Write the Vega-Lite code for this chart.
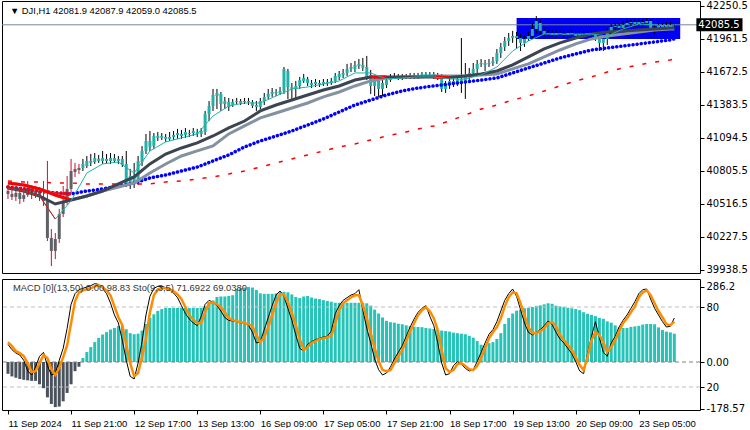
{
"$schema": "https://vega.github.io/schema/vega-lite/v6.json",
"padding": {"left": 0, "top": 0, "right": 0, "bottom": 0},
"background": "white",
"spacing": 2,
"config": {"view": {"stroke": "#000000", "strokeWidth": 1}, "axis": {"labelFont": "DejaVu Sans", "labelFontSize": 10, "labelColor": "#000000", "tickColor": "#000000", "domain": false, "grid": false, "tickSize": 4, "labelOverlap": false}, "text": {"font": "Liberation Sans"}},
"datasets": {
"candles": [
{"i":0,"o":40630,"h":40665,"l":40560,"c":40604},{"i":1,"o":40604,"h":40639,"l":40551,"c":40578},{"i":2,"o":40578,"h":40648,"l":40543,"c":40613},{"i":3,"o":40613,"h":40639,"l":40516,"c":40560},{"i":4,"o":40560,"h":40630,"l":40534,"c":40595},{"i":5,"o":40595,"h":40718,"l":40578,"c":40657},{"i":6,"o":40657,"h":40683,"l":40560,"c":40604},{"i":7,"o":40604,"h":40674,"l":40569,"c":40630},{"i":8,"o":40630,"h":40665,"l":40543,"c":40578},{"i":9,"o":40578,"h":40718,"l":40499,"c":40543},
{"i":10,"o":40543,"h":40893,"l":40192,"c":40219},{"i":11,"o":40219,"h":40297,"l":39973,"c":40105},{"i":12,"o":40105,"h":40262,"l":40034,"c":40210},{"i":13,"o":40210,"h":40473,"l":40175,"c":40429},{"i":14,"o":40429,"h":40674,"l":40402,"c":40543},{"i":15,"o":40543,"h":40762,"l":40508,"c":40648},{"i":16,"o":40648,"h":40911,"l":40613,"c":40805},{"i":17,"o":40797,"h":40876,"l":40753,"c":40823},{"i":18,"o":40814,"h":40867,"l":40779,"c":40832},{"i":19,"o":40832,"h":40911,"l":40805,"c":40867},
{"i":20,"o":40849,"h":40937,"l":40832,"c":40893},{"i":21,"o":40876,"h":40954,"l":40849,"c":40893},{"i":22,"o":40884,"h":40963,"l":40867,"c":40919},{"i":23,"o":40911,"h":40946,"l":40876,"c":40893},{"i":24,"o":40893,"h":40981,"l":40867,"c":40919},{"i":25,"o":40911,"h":40954,"l":40867,"c":40893},{"i":26,"o":40893,"h":40963,"l":40867,"c":40919},{"i":27,"o":40919,"h":40954,"l":40876,"c":40893},{"i":28,"o":40893,"h":40937,"l":40867,"c":40911},{"i":29,"o":40911,"h":40937,"l":40840,"c":40858},
{"i":30,"o":40867,"h":40981,"l":40665,"c":40692},{"i":31,"o":40692,"h":40823,"l":40648,"c":40762},{"i":32,"o":40753,"h":40876,"l":40657,"c":40700},{"i":33,"o":40718,"h":40937,"l":40683,"c":40893},{"i":34,"o":40884,"h":41024,"l":40849,"c":40981},{"i":35,"o":40981,"h":41130,"l":40954,"c":41068},{"i":36,"o":41068,"h":41156,"l":40981,"c":41016},{"i":37,"o":41024,"h":41138,"l":40998,"c":41112},{"i":38,"o":41112,"h":41147,"l":41068,"c":41095},{"i":39,"o":41095,"h":41138,"l":41077,"c":41112},
{"i":40,"o":41103,"h":41130,"l":41060,"c":41086},{"i":41,"o":41086,"h":41147,"l":41068,"c":41103},{"i":42,"o":41103,"h":41156,"l":41077,"c":41121},{"i":43,"o":41121,"h":41174,"l":41086,"c":41138},{"i":44,"o":41130,"h":41165,"l":41086,"c":41112},{"i":45,"o":41121,"h":41182,"l":41095,"c":41147},{"i":46,"o":41138,"h":41165,"l":41103,"c":41130},{"i":47,"o":41138,"h":41182,"l":41112,"c":41156},{"i":48,"o":41147,"h":41174,"l":41103,"c":41130},{"i":49,"o":41130,"h":41182,"l":41103,"c":41156},
{"i":50,"o":41147,"h":41331,"l":41121,"c":41305},{"i":51,"o":41305,"h":41418,"l":41243,"c":41375},{"i":52,"o":41375,"h":41524,"l":41331,"c":41471},{"i":53,"o":41462,"h":41524,"l":41348,"c":41489},{"i":54,"o":41480,"h":41497,"l":41331,"c":41392},{"i":55,"o":41392,"h":41454,"l":41348,"c":41418},{"i":56,"o":41410,"h":41445,"l":41331,"c":41366},{"i":57,"o":41383,"h":41436,"l":41366,"c":41410},{"i":58,"o":41410,"h":41445,"l":41392,"c":41418},{"i":59,"o":41418,"h":41436,"l":41383,"c":41401},
{"i":60,"o":41410,"h":41445,"l":41392,"c":41418},{"i":61,"o":41418,"h":41445,"l":41383,"c":41410},{"i":62,"o":41410,"h":41427,"l":41357,"c":41375},{"i":63,"o":41383,"h":41418,"l":41331,"c":41366},{"i":64,"o":41366,"h":41445,"l":41348,"c":41418},{"i":65,"o":41418,"h":41489,"l":41383,"c":41454},{"i":66,"o":41454,"h":41524,"l":41436,"c":41480},{"i":67,"o":41480,"h":41532,"l":41454,"c":41497},{"i":68,"o":41497,"h":41524,"l":41462,"c":41489},{"i":69,"o":41489,"h":41541,"l":41471,"c":41506},
{"i":70,"o":41506,"h":41716,"l":41480,"c":41699},{"i":71,"o":41681,"h":41699,"l":41436,"c":41541},{"i":72,"o":41541,"h":41576,"l":41418,"c":41524},{"i":73,"o":41524,"h":41594,"l":41436,"c":41550},{"i":74,"o":41550,"h":41629,"l":41524,"c":41602},{"i":75,"o":41594,"h":41655,"l":41576,"c":41620},{"i":76,"o":41611,"h":41629,"l":41550,"c":41576},{"i":77,"o":41576,"h":41602,"l":41532,"c":41559},{"i":78,"o":41567,"h":41611,"l":41541,"c":41585},{"i":79,"o":41576,"h":41602,"l":41541,"c":41567},
{"i":80,"o":41567,"h":41611,"l":41550,"c":41585},{"i":81,"o":41585,"h":41611,"l":41550,"c":41576},{"i":82,"o":41576,"h":41620,"l":41559,"c":41594},{"i":83,"o":41594,"h":41664,"l":41576,"c":41637},{"i":84,"o":41629,"h":41681,"l":41602,"c":41655},{"i":85,"o":41646,"h":41699,"l":41620,"c":41664},{"i":86,"o":41664,"h":41743,"l":41637,"c":41699},{"i":87,"o":41699,"h":41751,"l":41672,"c":41716},{"i":88,"o":41699,"h":41769,"l":41672,"c":41734},{"i":89,"o":41725,"h":41786,"l":41699,"c":41743},
{"i":90,"o":41734,"h":41795,"l":41681,"c":41708},{"i":91,"o":41716,"h":41813,"l":41602,"c":41629},{"i":92,"o":41646,"h":41690,"l":41480,"c":41550},{"i":93,"o":41550,"h":41629,"l":41462,"c":41594},{"i":94,"o":41594,"h":41620,"l":41454,"c":41524},{"i":95,"o":41524,"h":41611,"l":41462,"c":41576},{"i":96,"o":41559,"h":41629,"l":41532,"c":41602},{"i":97,"o":41602,"h":41655,"l":41585,"c":41629},{"i":98,"o":41629,"h":41664,"l":41611,"c":41637},{"i":99,"o":41637,"h":41655,"l":41602,"c":41620},
{"i":100,"o":41620,"h":41655,"l":41602,"c":41637},{"i":101,"o":41637,"h":41655,"l":41611,"c":41629},{"i":102,"o":41629,"h":41664,"l":41611,"c":41646},{"i":103,"o":41646,"h":41664,"l":41611,"c":41629},{"i":104,"o":41629,"h":41664,"l":41611,"c":41646},{"i":105,"o":41646,"h":41672,"l":41620,"c":41655},{"i":106,"o":41655,"h":41672,"l":41620,"c":41637},{"i":107,"o":41637,"h":41672,"l":41620,"c":41655},{"i":108,"o":41655,"h":41672,"l":41611,"c":41637},{"i":109,"o":41637,"h":41664,"l":41602,"c":41629},
{"i":110,"o":41637,"h":41655,"l":41497,"c":41524},{"i":111,"o":41524,"h":41594,"l":41489,"c":41559},{"i":112,"o":41559,"h":41611,"l":41524,"c":41594},{"i":113,"o":41594,"h":41629,"l":41541,"c":41576},{"i":114,"o":41576,"h":41646,"l":41550,"c":41611},{"i":115,"o":41611,"h":41970,"l":41489,"c":41594},{"i":116,"o":41594,"h":41751,"l":41436,"c":41629},{"i":117,"o":41629,"h":41708,"l":41594,"c":41664},{"i":118,"o":41664,"h":41751,"l":41637,"c":41699},{"i":119,"o":41699,"h":41778,"l":41664,"c":41743},
{"i":120,"o":41743,"h":41786,"l":41716,"c":41751},{"i":121,"o":41751,"h":41778,"l":41681,"c":41734},{"i":122,"o":41743,"h":41786,"l":41716,"c":41751},{"i":123,"o":41751,"h":41804,"l":41725,"c":41769},{"i":124,"o":41769,"h":41874,"l":41743,"c":41839},{"i":125,"o":41839,"h":41927,"l":41795,"c":41892},{"i":126,"o":41892,"h":41979,"l":41856,"c":41944},{"i":127,"o":41944,"h":42014,"l":41900,"c":41970},{"i":128,"o":41970,"h":42032,"l":41927,"c":41988},{"i":129,"o":41988,"h":42023,"l":41874,"c":41970},
{"i":130,"o":41970,"h":42005,"l":41856,"c":41927},{"i":131,"o":41927,"h":41997,"l":41892,"c":41962},{"i":132,"o":41962,"h":42023,"l":41944,"c":41988},{"i":133,"o":41988,"h":42102,"l":41962,"c":42049},{"i":134,"o":42049,"h":42163,"l":42014,"c":42119},{"i":135,"o":42102,"h":42137,"l":41997,"c":42032},{"i":136,"o":42032,"h":42058,"l":41979,"c":42005},{"i":137,"o":42005,"h":42040,"l":41988,"c":42014},{"i":138,"o":42014,"h":42040,"l":41979,"c":41997},{"i":139,"o":41997,"h":42040,"l":41979,"c":42014},
{"i":140,"o":42014,"h":42040,"l":41988,"c":42005},{"i":141,"o":42005,"h":42032,"l":41970,"c":41997},{"i":142,"o":41997,"h":42040,"l":41979,"c":42014},{"i":143,"o":42014,"h":42040,"l":41988,"c":42005},{"i":144,"o":42005,"h":42032,"l":41962,"c":41988},{"i":145,"o":41988,"h":42032,"l":41970,"c":42005},{"i":146,"o":42005,"h":42032,"l":41979,"c":41997},{"i":147,"o":41997,"h":42040,"l":41979,"c":42014},{"i":148,"o":42014,"h":42040,"l":41970,"c":41997},{"i":149,"o":41997,"h":42023,"l":41944,"c":41979},
{"i":150,"o":41979,"h":42005,"l":41856,"c":41927},{"i":151,"o":41927,"h":41997,"l":41856,"c":41962},{"i":152,"o":41962,"h":42058,"l":41909,"c":42032},{"i":153,"o":42032,"h":42093,"l":42005,"c":42067},{"i":154,"o":42067,"h":42102,"l":42040,"c":42075},{"i":155,"o":42075,"h":42102,"l":42032,"c":42058},{"i":156,"o":42058,"h":42110,"l":42040,"c":42084},{"i":157,"o":42084,"h":42128,"l":42058,"c":42102},{"i":158,"o":42102,"h":42137,"l":42075,"c":42110},{"i":159,"o":42110,"h":42137,"l":42067,"c":42093},
{"i":160,"o":42093,"h":42137,"l":42075,"c":42110},{"i":161,"o":42110,"h":42137,"l":42075,"c":42102},{"i":162,"o":42102,"h":42145,"l":42084,"c":42119},{"i":163,"o":42119,"h":42137,"l":42023,"c":42058},{"i":164,"o":42058,"h":42084,"l":42005,"c":42040},{"i":165,"o":42040,"h":42102,"l":42023,"c":42075},{"i":166,"o":42075,"h":42102,"l":42032,"c":42058},{"i":167,"o":42058,"h":42110,"l":42040,"c":42084},{"i":168,"o":42084,"h":42110,"l":42049,"c":42067},{"i":169,"o":42081.9,"h":42087.9,"l":42059.0,"c":42085.5}
],
"ma": [
{"i":0,"f":40657,"m":40657,"s":40700,"b":40665,"r":40718},{"i":4,"f":40630,"m":40630,"s":40683,"b":40648,"r":40709},{"i":8,"f":40586,"m":40586,"s":40648,"b":40630,"r":40709},{"i":12,"f":40385,"m":40516,"s":40595,"b":40613,"r":40700},{"i":16,"f":40543,"m":40551,"s":40551,"b":40604,"r":40700},{"i":20,"f":40788,"m":40586,"s":40586,"b":40630,"r":40692},{"i":24,"f":40867,"m":40630,"s":40630,"b":40648,"r":40692},{"i":28,"f":40884,"m":40692,"s":40665,"b":40674,"r":40692},{"i":32,"f":40788,"m":40753,"s":40700,"b":40700,"r":40692},{"i":36,"f":40981,"m":40867,"s":40788,"b":40744,"r":40692},
{"i":40,"f":41060,"m":40954,"s":40867,"b":40770,"r":40709},{"i":44,"f":41095,"m":41007,"s":40937,"b":40805,"r":40718},{"i":48,"f":41130,"m":41051,"s":40981,"b":40840,"r":40735},{"i":52,"f":41287,"m":41112,"s":41024,"b":40893,"r":40753},{"i":56,"f":41375,"m":41182,"s":41130,"b":40946,"r":40779},{"i":60,"f":41401,"m":41243,"s":41200,"b":41016,"r":40805},{"i":64,"f":41401,"m":41331,"s":41270,"b":41068,"r":40840},{"i":68,"f":41462,"m":41383,"s":41313,"b":41112,"r":40876},{"i":72,"f":41524,"m":41427,"s":41357,"b":41156,"r":40911},{"i":76,"f":41541,"m":41471,"s":41401,"b":41208,"r":40946},
{"i":80,"f":41567,"m":41515,"s":41454,"b":41261,"r":40981},{"i":84,"f":41594,"m":41550,"s":41497,"b":41322,"r":41016},{"i":88,"f":41664,"m":41602,"s":41550,"b":41383,"r":41042},{"i":92,"f":41664,"m":41629,"s":41594,"b":41427,"r":41077},{"i":96,"f":41611,"m":41629,"s":41620,"b":41471,"r":41112},{"i":100,"f":41620,"m":41629,"s":41629,"b":41506,"r":41138},{"i":104,"f":41629,"m":41629,"s":41629,"b":41532,"r":41174},{"i":108,"f":41629,"m":41629,"s":41637,"b":41550,"r":41200},{"i":112,"f":41611,"m":41625,"s":41637,"b":41567,"r":41243},{"i":116,"f":41611,"m":41637,"s":41637,"b":41585,"r":41296},
{"i":120,"f":41646,"m":41655,"s":41646,"b":41602,"r":41348},{"i":124,"f":41716,"m":41681,"s":41655,"b":41620,"r":41383},{"i":128,"f":41856,"m":41734,"s":41699,"b":41664,"r":41427},{"i":132,"f":41944,"m":41804,"s":41743,"b":41708,"r":41462},{"i":136,"f":42005,"m":41874,"s":41804,"b":41751,"r":41506},{"i":140,"f":42005,"m":41927,"s":41865,"b":41795,"r":41550},{"i":144,"f":42005,"m":41970,"s":41918,"b":41830,"r":41594},{"i":148,"f":42005,"m":42005,"s":41962,"b":41865,"r":41629},{"i":152,"f":41988,"m":42023,"s":41988,"b":41883,"r":41672},{"i":156,"f":42049,"m":42032,"s":42005,"b":41900,"r":41708},
{"i":160,"f":42093,"m":42040,"s":42023,"b":41918,"r":41734},{"i":164,"f":42084,"m":42049,"s":42040,"b":41935,"r":41760},{"i":168,"f":42075,"m":42058,"s":42049,"b":41953,"r":41778},{"i":169,"f":42075,"m":42058,"s":42049,"b":41962,"r":41786}
],
"osc": [
{"i":0,"h":-45,"k":52,"d":53.6},{"i":1,"h":-55,"k":48,"d":50.6},{"i":2,"h":-60,"k":45.5,"d":46.9},{"i":3,"h":-65,"k":44,"d":45.4},{"i":4,"h":-68,"k":40,"d":43.2},{"i":5,"h":-70,"k":32,"d":37.9},{"i":6,"h":-72,"k":29,"d":31.2},{"i":7,"h":-72,"k":35,"d":31.9},{"i":8,"h":-85,"k":43,"d":37.9},{"i":9,"h":-100,"k":46,"d":43.9},
{"i":10,"h":-135,"k":36,"d":41.7},{"i":11,"h":-160,"k":29,"d":33.4},{"i":12,"h":-172,"k":30,"d":29.0},{"i":13,"h":-170,"k":40,"d":34.2},{"i":14,"h":-150,"k":49,"d":42.4},{"i":15,"h":-118,"k":64,"d":51.4},{"i":16,"h":-85,"k":82,"d":67.8},{"i":17,"h":-35,"k":90,"d":84.3},{"i":18,"h":-18,"k":93,"d":91.0},{"i":19,"h":15,"k":94,"d":92.5},
{"i":20,"h":38,"k":95,"d":93.3},{"i":21,"h":57,"k":96,"d":94.0},{"i":22,"h":76,"k":97.5,"d":95.5},{"i":23,"h":92,"k":97,"d":96.3},{"i":24,"h":105,"k":94,"d":94.8},{"i":25,"h":114,"k":90,"d":92.5},{"i":26,"h":124,"k":83,"d":88.8},{"i":27,"h":130,"k":74,"d":80.5},{"i":28,"h":137,"k":68,"d":72.3},{"i":29,"h":138,"k":55,"d":66.4},
{"i":30,"h":125,"k":40,"d":51.4},{"i":31,"h":110,"k":28,"d":37.9},{"i":32,"h":106,"k":26,"d":28.2},{"i":33,"h":108,"k":38,"d":30.4},{"i":34,"h":120,"k":54,"d":42.4},{"i":35,"h":145,"k":74,"d":56.6},{"i":36,"h":168,"k":88,"d":76.1},{"i":37,"h":182,"k":94,"d":88.8},{"i":38,"h":195,"k":95.5,"d":93.3},{"i":39,"h":202,"k":95.5,"d":94.0},
{"i":40,"h":206,"k":94.5,"d":94.0},{"i":41,"h":206,"k":93,"d":93.3},{"i":42,"h":206,"k":90.5,"d":91.8},{"i":43,"h":206,"k":87,"d":89.5},{"i":44,"h":206,"k":81,"d":85.8},{"i":45,"h":206,"k":75,"d":79.8},{"i":46,"h":206,"k":71,"d":73.8},{"i":47,"h":206,"k":68,"d":70.8},{"i":48,"h":206,"k":66,"d":67.8},{"i":49,"h":206,"k":73,"d":67.8},
{"i":50,"h":212,"k":82,"d":76.1},{"i":51,"h":228,"k":85,"d":82.8},{"i":52,"h":235,"k":83.5,"d":83.6},{"i":53,"h":248,"k":81,"d":82.1},{"i":54,"h":250,"k":77,"d":79.8},{"i":55,"h":250,"k":72,"d":76.1},{"i":56,"h":252,"k":70,"d":71.6},{"i":57,"h":255,"k":69.5,"d":70.1},{"i":58,"h":278,"k":69,"d":69.3},{"i":59,"h":282,"k":68,"d":68.6},
{"i":60,"h":284,"k":67.5,"d":67.8},{"i":61,"h":286,"k":66.5,"d":67.1},{"i":62,"h":284,"k":61,"d":65.6},{"i":63,"h":275,"k":53,"d":58.9},{"i":64,"h":262,"k":54,"d":53.6},{"i":65,"h":260,"k":63,"d":57.4},{"i":66,"h":260,"k":72,"d":64.9},{"i":67,"h":260,"k":81,"d":73.8},{"i":68,"h":262,"k":89,"d":82.8},{"i":69,"h":266,"k":92,"d":89.5},
{"i":70,"h":268,"k":88,"d":89.5},{"i":71,"h":266,"k":79,"d":83.6},{"i":72,"h":258,"k":70,"d":75.3},{"i":73,"h":248,"k":59,"d":66.4},{"i":74,"h":244,"k":49,"d":55.9},{"i":75,"h":250,"k":47,"d":47.7},{"i":76,"h":252,"k":52,"d":49.9},{"i":77,"h":246,"k":54,"d":52.9},{"i":78,"h":242,"k":55.5,"d":54.4},{"i":79,"h":240,"k":56.5,"d":55.9},
{"i":80,"h":236,"k":57.5,"d":56.6},{"i":81,"h":233,"k":58,"d":57.4},{"i":82,"h":230,"k":62,"d":58.1},{"i":83,"h":226,"k":75,"d":67.8},{"i":84,"h":226,"k":81,"d":77.6},{"i":85,"h":226,"k":85,"d":82.8},{"i":86,"h":226,"k":87,"d":85.1},{"i":87,"h":226,"k":89,"d":87.3},{"i":88,"h":226,"k":90,"d":88.8},{"i":89,"h":226,"k":93,"d":88.8},
{"i":90,"h":225,"k":78,"d":81.3},{"i":91,"h":224,"k":64,"d":71.6},{"i":92,"h":215,"k":53,"d":60.4},{"i":93,"h":200,"k":41,"d":49.2},{"i":94,"h":185,"k":33,"d":39.5},{"i":95,"h":170,"k":29,"d":32.7},{"i":96,"h":157,"k":30.5,"d":31.9},{"i":97,"h":152,"k":35,"d":32.7},{"i":98,"h":150,"k":41,"d":37.9},{"i":99,"h":146,"k":46,"d":43.2},
{"i":100,"h":144,"k":51,"d":47.7},{"i":101,"h":140,"k":58,"d":54.4},{"i":102,"h":137,"k":65,"d":61.9},{"i":103,"h":135,"k":71,"d":67.8},{"i":104,"h":134,"k":76,"d":73.8},{"i":105,"h":133,"k":79,"d":77.6},{"i":106,"h":130,"k":81,"d":79.8},{"i":107,"h":128,"k":73,"d":76.8},{"i":108,"h":126,"k":66,"d":71.6},{"i":109,"h":122,"k":53,"d":62.6},
{"i":110,"h":120,"k":38,"d":47.7},{"i":111,"h":118,"k":29,"d":34.2},{"i":112,"h":116,"k":30,"d":31.2},{"i":113,"h":112,"k":36,"d":32.7},{"i":114,"h":110,"k":39,"d":37.2},{"i":115,"h":108,"k":37,"d":37.9},{"i":116,"h":106,"k":34,"d":35.7},{"i":117,"h":100,"k":32,"d":33.4},{"i":118,"h":93,"k":33,"d":32.7},{"i":119,"h":80,"k":39,"d":35.7},
{"i":120,"h":66,"k":46,"d":41.7},{"i":121,"h":64,"k":53,"d":49.2},{"i":122,"h":72,"k":59.5,"d":56.6},{"i":123,"h":76,"k":63,"d":61.1},{"i":124,"h":88,"k":69,"d":64.9},{"i":125,"h":110,"k":77,"d":71.6},{"i":126,"h":145,"k":85,"d":80.5},{"i":127,"h":168,"k":90,"d":87.3},{"i":128,"h":185,"k":93.5,"d":91.0},{"i":129,"h":196,"k":88,"d":90.3},
{"i":130,"h":200,"k":78,"d":82.8},{"i":131,"h":205,"k":68,"d":73.8},{"i":132,"h":207,"k":61,"d":64.9},{"i":133,"h":210,"k":59,"d":60.4},{"i":134,"h":214,"k":61,"d":60.4},{"i":135,"h":216,"k":63,"d":61.9},{"i":136,"h":220,"k":66,"d":64.1},{"i":137,"h":224,"k":69.5,"d":67.8},{"i":138,"h":222,"k":67,"d":68.6},{"i":139,"h":215,"k":61,"d":65.6},
{"i":140,"h":212,"k":56,"d":58.9},{"i":141,"h":210,"k":53,"d":55.1},{"i":142,"h":207,"k":49,"d":51.4},{"i":143,"h":205,"k":45,"d":47.7},{"i":144,"h":202,"k":39,"d":42.4},{"i":145,"h":198,"k":32,"d":36.4},{"i":146,"h":190,"k":30,"d":32.7},{"i":147,"h":184,"k":45,"d":42.4},{"i":148,"h":180,"k":58,"d":55.1},{"i":149,"h":175,"k":69,"d":61.1},
{"i":150,"h":168,"k":57,"d":58.9},{"i":151,"h":165,"k":46,"d":53.6},{"i":152,"h":155,"k":43,"d":46.2},{"i":153,"h":150,"k":53,"d":49.9},{"i":154,"h":140,"k":58,"d":55.1},{"i":155,"h":132,"k":65,"d":61.9},{"i":156,"h":130,"k":70,"d":67.8},{"i":157,"h":130,"k":74,"d":71.6},{"i":158,"h":134,"k":79,"d":76.1},{"i":159,"h":136,"k":84,"d":80.5},
{"i":160,"h":138,"k":90,"d":87.3},{"i":161,"h":143,"k":93,"d":91.0},{"i":162,"h":145,"k":93.5,"d":92.5},{"i":163,"h":145,"k":86,"d":88.8},{"i":164,"h":144,"k":79,"d":82.8},{"i":165,"h":132,"k":74,"d":76.8},{"i":166,"h":122,"k":69,"d":72.3},{"i":167,"h":116,"k":65,"d":67.1},{"i":168,"h":113,"k":65.5,"d":66.4},{"i":169,"h":108,"k":71.7,"d":69.0}
]
},
"vconcat": [
{
"width": 698, "height": 272,
"layer": [
{"data": {"values": [{}]}, "mark": {"type": "rect", "color": "#0000f5"},
 "encoding": {"x": {"datum": 129, "type": "quantitative", "scale": {"domain": [-0.25, 174.25], "nice": false, "zero": false}, "axis": null}, "x2": {"datum": 170.5},
  "y": {"datum": 42145, "type": "quantitative", "scale": {"domain": [39912, 42294], "nice": false, "zero": false}, "axis": {"orient": "right", "title": null, "values": [42250.5, 41961.5, 41672.5, 41383.5, 41094.5, 40805.5, 40516.5, 40227.5, 39938.5], "format": ".1f", "labelPadding": 2, "labelOverlap": false, "tickCount": 30}}, "y2": {"datum": 41962}}},
{"data": {"values": [{}]}, "mark": {"type": "rule", "color": "#778899", "strokeWidth": 1},
 "encoding": {"y": {"datum": 42085.5, "type": "quantitative"}}},
{"data": {"name": "candles"}, "mark": {"type": "rule", "strokeWidth": 1},
 "encoding": {"x": {"field": "i", "type": "quantitative"}, "y": {"field": "l", "type": "quantitative"}, "y2": {"field": "h"},
  "color": {"condition": {"test": "datum.i <= 18", "value": "#c8102e"}, "value": "#000000"}}},
{"data": {"name": "candles"}, "mark": {"type": "bar", "size": 3},
 "encoding": {"x": {"field": "i", "type": "quantitative"}, "y": {"field": "o", "type": "quantitative"}, "y2": {"field": "c"},
  "color": {"condition": {"test": "datum.i <= 18", "value": "#5f6166"}, "value": "#20b2aa"}}},
{"data": {"name": "ma"}, "mark": {"type": "line", "color": "#ff0000", "strokeWidth": 1.5, "strokeDash": [4, 9]},
 "encoding": {"x": {"field": "i", "type": "quantitative"}, "y": {"field": "r", "type": "quantitative"}}},
{"data": {"name": "ma"}, "mark": {"type": "line", "color": "#0000ff", "strokeWidth": 3.5, "strokeDash": [0.1, 4], "strokeCap": "round"},
 "encoding": {"x": {"field": "i", "type": "quantitative"}, "y": {"field": "b", "type": "quantitative"}}},
{"data": {"name": "ma"}, "transform": [{"filter": "datum.i <= 16"}], "mark": {"type": "line", "color": "#ff0000", "strokeWidth": 3.5, "strokeDash": [0.1, 4], "strokeCap": "round"},
 "encoding": {"x": {"field": "i", "type": "quantitative"}, "y": {"field": "b", "type": "quantitative"}}},
{"data": {"name": "ma"}, "mark": {"type": "line", "color": "#8491a0", "strokeWidth": 3},
 "encoding": {"x": {"field": "i", "type": "quantitative"}, "y": {"field": "s", "type": "quantitative"}}},
{"data": {"name": "ma"}, "transform": [{"filter": "datum.i <= 16"}], "mark": {"type": "line", "color": "#ff0000", "strokeWidth": 3},
 "encoding": {"x": {"field": "i", "type": "quantitative"}, "y": {"field": "s", "type": "quantitative"}}},
{"data": {"name": "ma"}, "mark": {"type": "line", "color": "#3c4452", "strokeWidth": 3},
 "encoding": {"x": {"field": "i", "type": "quantitative"}, "y": {"field": "m", "type": "quantitative"}}},
{"data": {"name": "ma"}, "transform": [{"filter": "datum.i >= 92 && datum.i <= 96"}], "mark": {"type": "line", "color": "#ff0000", "strokeWidth": 3},
 "encoding": {"x": {"field": "i", "type": "quantitative"}, "y": {"field": "m", "type": "quantitative"}}},
{"data": {"name": "ma"}, "transform": [{"filter": "datum.i >= 108 && datum.i <= 112"}], "mark": {"type": "line", "color": "#ff0000", "strokeWidth": 3},
 "encoding": {"x": {"field": "i", "type": "quantitative"}, "y": {"field": "m", "type": "quantitative"}}},
{"data": {"name": "ma"}, "mark": {"type": "line", "color": "#20b2aa", "strokeWidth": 1},
 "encoding": {"x": {"field": "i", "type": "quantitative"}, "y": {"field": "f", "type": "quantitative"}}},
{"data": {"name": "ma"}, "transform": [{"filter": "datum.i <= 12"}], "mark": {"type": "line", "color": "#ff0000", "strokeWidth": 1},
 "encoding": {"x": {"field": "i", "type": "quantitative"}, "y": {"field": "f", "type": "quantitative"}}},
{"data": {"values": [{}]}, "mark": {"type": "text", "align": "left", "baseline": "middle", "fontSize": 9.4, "color": "#000000"},
 "encoding": {"x": {"datum": 0.5, "type": "quantitative"}, "y": {"datum": 42207, "type": "quantitative"}, "text": {"value": "▼ DJI,H1  42081.9 42087.9 42059.0 42085.5"}}},
{"data": {"values": [{}]}, "mark": {"type": "rect", "color": "#000000", "clip": false},
 "encoding": {"x": {"datum": 174.6, "type": "quantitative"}, "x2": {"datum": 186.3}, "y": {"datum": 42142, "type": "quantitative"}, "y2": {"datum": 42029}}},
{"data": {"values": [{}]}, "mark": {"type": "text", "align": "left", "baseline": "middle", "fontSize": 10, "font": "DejaVu Sans", "color": "#ffffff", "clip": false},
 "encoding": {"x": {"datum": 175.1, "type": "quantitative"}, "y": {"datum": 42085.5, "type": "quantitative"}, "text": {"value": "42085.5"}}}
]
},
{
"width": 698, "height": 131,
"layer": [
{"layer": [
 {"data": {"name": "osc"}, "mark": {"type": "bar", "size": 3},
  "encoding": {"x": {"field": "i", "type": "quantitative", "scale": {"domain": [-0.25, 174.25], "nice": false, "zero": false},
    "axis": {"title": null, "values": [0, 16, 32, 48, 64, 80, 96, 112, 128, 144, 160], "tickCount": 30, "labelExpr": "['11 Sep 2024','11 Sep 21:00','12 Sep 17:00','13 Sep 13:00','16 Sep 09:00','17 Sep 05:00','17 Sep 21:00','18 Sep 17:00','19 Sep 13:00','20 Sep 09:00','23 Sep 05:00'][round(datum.value/16)]", "labelAlign": "left", "labelPadding": 4, "labelFlush": false, "labelOverlap": false, "labelFont": "Liberation Sans", "labelFontSize": 9.5}},
   "y": {"field": "h", "type": "quantitative", "scale": {"domain": [-183.1, 316.7], "nice": false, "zero": false},
    "axis": {"orient": "right", "title": null, "values": [286.2, 0, -178.57], "tickCount": 30, "labelExpr": "datum.value == 0 ? '0.00' : (datum.value < 0 ? '-178.57' : '286.2')", "labelPadding": 2}},
   "y2": {"datum": 0},
   "color": {"condition": {"test": "datum.h < 0", "value": "#4a525c"}, "value": "#26c4b8"}}},
 {"data": {"values": [{}]}, "mark": {"type": "rule", "color": "#808080", "strokeDash": [4, 3], "strokeWidth": 1},
  "encoding": {"y": {"datum": 0, "type": "quantitative"}}}
]},
{"layer": [
 {"data": {"values": [{}]}, "mark": {"type": "rule", "color": "#c0c0c0", "strokeDash": [4, 3], "strokeWidth": 1},
  "encoding": {"y": {"datum": 80, "type": "quantitative", "scale": {"domain": [2.75, 101], "nice": false, "zero": false},
   "axis": {"orient": "right", "title": null, "values": [80, 20], "tickCount": 30, "labelPadding": 2}}}},
 {"data": {"values": [{}]}, "mark": {"type": "rule", "color": "#c0c0c0", "strokeDash": [4, 3], "strokeWidth": 1},
  "encoding": {"y": {"datum": 20, "type": "quantitative"}}},
 {"data": {"name": "osc"}, "mark": {"type": "line", "color": "#000000", "strokeWidth": 1},
  "encoding": {"x": {"field": "i", "type": "quantitative"}, "y": {"field": "k", "type": "quantitative"}}},
 {"data": {"name": "osc"}, "mark": {"type": "line", "color": "#ff8c00", "strokeWidth": 2.5},
  "encoding": {"x": {"field": "i", "type": "quantitative"}, "y": {"field": "d", "type": "quantitative"}}},
 {"data": {"values": [{}]}, "mark": {"type": "text", "align": "left", "baseline": "middle", "fontSize": 9.4, "color": "#333333"},
  "encoding": {"x": {"datum": 1.25, "type": "quantitative"}, "y": {"datum": 94.2, "type": "quantitative"}, "text": {"value": "MACD [0](13,50) 0.00 98.83  Sto(9,3,5) 71.6922 69.0380"}}}
]}
],
"resolve": {"scale": {"y": "independent"}, "axis": {"y": "independent"}}
}
]
}
